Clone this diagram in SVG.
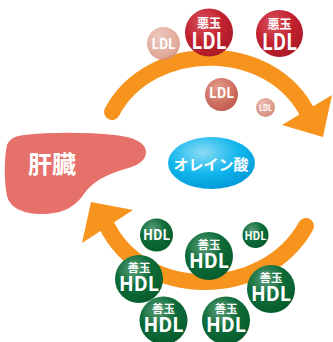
<svg xmlns="http://www.w3.org/2000/svg" width="333" height="342" viewBox="0 0 333 342">
  <defs>
    <radialGradient id="gRed" cx="0.38" cy="0.3" r="0.75">
      <stop offset="0" stop-color="#d9555e"/>
      <stop offset="0.55" stop-color="#c1212f"/>
      <stop offset="1" stop-color="#a91a27"/>
    </radialGradient>
    <radialGradient id="gGreen" cx="0.38" cy="0.3" r="0.75">
      <stop offset="0" stop-color="#5a9c77"/>
      <stop offset="0.5" stop-color="#0e6c39"/>
      <stop offset="1" stop-color="#055a2b"/>
    </radialGradient>
    <radialGradient id="gPale" cx="0.38" cy="0.3" r="0.75">
      <stop offset="0" stop-color="#ecbcae"/>
      <stop offset="1" stop-color="#d38c7a"/>
    </radialGradient>
    <radialGradient id="gSalmon" cx="0.38" cy="0.3" r="0.75">
      <stop offset="0" stop-color="#e29a8c"/>
      <stop offset="0.6" stop-color="#cf7263"/>
      <stop offset="1" stop-color="#c0594c"/>
    </radialGradient>
    <radialGradient id="gBlue" cx="0.4" cy="0.3" r="0.75">
      <stop offset="0" stop-color="#8adcf5"/>
      <stop offset="0.55" stop-color="#11b5ec"/>
      <stop offset="1" stop-color="#0098d8"/>
    </radialGradient>
    <style>
      .arc { fill: none; stroke: #f7941d; stroke-width: 16; stroke-linecap: round; }
      .head { fill: #f7941d; }
      .t { fill: #ffffff; font-family: "Noto Sans CJK JP", "Noto Sans", sans-serif; font-weight: 700; text-anchor: middle; }
      .kanji { font-size: 11.5px; }
      .big { font-size: 20.5px; }
    </style>
  </defs>

  <!-- circulation arrows -->
  <g id="connectors">
    <path class="arc" d="M112,112 C150,40 272,38 309,116"/>
    <polygon class="head" points="282,125 332,95 323,137"/>
    <path class="arc" d="M306,226 C265,300 143,302 106,224"/>
    <polygon class="head" points="133,210 82,243 91,202"/>
  </g>

  <!-- liver -->
  <g id="liver">
    <path fill="#e6706a" d="M7,145 C10,138 16,136 24,135 C50,132 85,132 115,135 C132,137 146,142 146,152 C146,161 137,166 125,169 C105,175 92,182 84,194 C76,206 64,213 46,214 C24,215 10,208 7,196 C4,182 4,158 7,145 Z"/>
    <text class="t" x="52" y="173" font-size="24">肝臓</text>
  </g>

  <!-- oleic acid -->
  <g id="oleic">
    <ellipse cx="211.5" cy="163" rx="43.5" ry="26" fill="url(#gBlue)"/>
    <text class="t" x="211" y="170" font-size="15">オレイン酸</text>
  </g>

  <!-- LDL particles -->
  <g id="ldl-pale">
    <circle cx="163.5" cy="43.5" r="16.5" fill="url(#gPale)" fill-opacity="0.82"/>
    <text class="t" x="163.5" y="49" font-size="14" textLength="24" lengthAdjust="spacingAndGlyphs">LDL</text>
  </g>
  <g id="ldl-bad-1">
    <circle cx="209" cy="32.5" r="24" fill="url(#gRed)"/>
    <text class="t"><tspan x="209" y="27.5" font-size="12">悪玉</tspan><tspan x="209" y="48.5" font-size="22" textLength="35" lengthAdjust="spacingAndGlyphs">LDL</tspan></text>
  </g>
  <g id="ldl-bad-2">
    <circle cx="279.5" cy="33.5" r="23.5" fill="url(#gRed)"/>
    <text class="t"><tspan x="279.5" y="28.5" font-size="12">悪玉</tspan><tspan x="279.5" y="49.5" font-size="22" textLength="35" lengthAdjust="spacingAndGlyphs">LDL</tspan></text>
  </g>
  <g id="ldl-mid">
    <circle cx="221.5" cy="94.5" r="16.5" fill="url(#gSalmon)"/>
    <text class="t" x="221.5" y="97.5" font-size="14" textLength="25" lengthAdjust="spacingAndGlyphs">LDL</text>
  </g>
  <g id="ldl-small">
    <circle cx="265.5" cy="107.5" r="9.5" fill="url(#gPale)"/>
    <text class="t" x="265.5" y="110.5" font-size="8.5" textLength="13" lengthAdjust="spacingAndGlyphs">LDL</text>
  </g>

  <!-- HDL particles -->
  <g id="hdl-small-1">
    <circle cx="156.5" cy="235" r="16.5" fill="url(#gGreen)"/>
    <text class="t" x="156.5" y="240" font-size="14" textLength="27" lengthAdjust="spacingAndGlyphs">HDL</text>
  </g>
  <g id="hdl-small-2">
    <circle cx="255.5" cy="235" r="13" fill="url(#gGreen)"/>
    <text class="t" x="255.5" y="239.5" font-size="11" textLength="22" lengthAdjust="spacingAndGlyphs">HDL</text>
  </g>
  <g id="hdl-good-center">
    <circle cx="209" cy="256" r="24" fill="url(#gGreen)"/>
    <text class="t"><tspan class="kanji" x="209" y="248.5">善玉</tspan><tspan class="big" x="209" y="267.5" textLength="40" lengthAdjust="spacingAndGlyphs">HDL</tspan></text>
  </g>
  <g id="hdl-good-left">
    <circle cx="139" cy="279" r="24" fill="url(#gGreen)"/>
    <text class="t"><tspan class="kanji" x="139" y="271.5">善玉</tspan><tspan class="big" x="139" y="290.5" textLength="40" lengthAdjust="spacingAndGlyphs">HDL</tspan></text>
  </g>
  <g id="hdl-good-right">
    <circle cx="271" cy="289" r="24" fill="url(#gGreen)"/>
    <text class="t"><tspan class="kanji" x="271" y="281.5">善玉</tspan><tspan class="big" x="271" y="300.5" textLength="40" lengthAdjust="spacingAndGlyphs">HDL</tspan></text>
  </g>
  <g id="hdl-good-bottom-left">
    <circle cx="163.5" cy="320.5" r="24" fill="url(#gGreen)"/>
    <text class="t"><tspan class="kanji" x="163.5" y="313">善玉</tspan><tspan class="big" x="163.5" y="332" textLength="40" lengthAdjust="spacingAndGlyphs">HDL</tspan></text>
  </g>
  <g id="hdl-good-bottom-right">
    <circle cx="226" cy="320.5" r="24" fill="url(#gGreen)"/>
    <text class="t"><tspan class="kanji" x="226" y="313">善玉</tspan><tspan class="big" x="226" y="332" textLength="40" lengthAdjust="spacingAndGlyphs">HDL</tspan></text>
  </g>
</svg>
